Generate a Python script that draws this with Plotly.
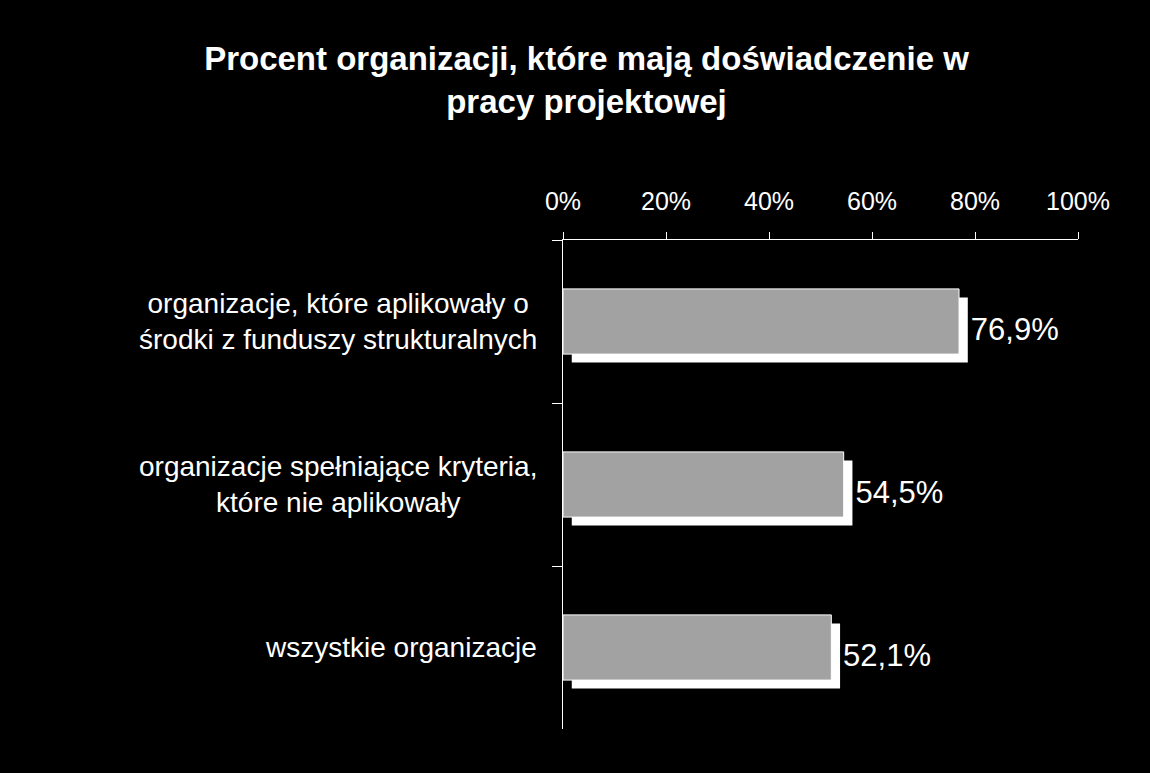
import plotly.graph_objects as go

categories = [
    "organizacje, które aplikowały o<br>środki z funduszy strukturalnych",
    "organizacje spełniające kryteria,<br>które nie aplikowały",
    "wszystkie organizacje",
]
values = [76.9, 54.5, 52.1]
tick_vals = [0, 20, 40, 60, 80, 100]
tick_text = ["0%", "20%", "40%", "60%", "80%", "100%"]
title_text = "Procent organizacji, które mają doświadczenie w<br>pracy projektowej"

labels = [f"{v:.1f}".replace(".", ",") + "%" for v in values]
idx = list(range(len(categories)))

BAR_W = 0.4
SHIFT_X = 1.7    # shadow shift in % units
SHIFT_Y = 0.052  # shadow shift in category units

fig = go.Figure()
# white shadow
fig.add_trace(go.Bar(
    y=idx, x=values, base=SHIFT_X, orientation="h",
    width=BAR_W, offset=-BAR_W / 2 + SHIFT_Y,
    marker=dict(color="#ffffff", line=dict(width=0)),
    text=labels, textposition="outside",
    textfont=dict(family="Liberation Sans, Arial, sans-serif", size=31, color="#ffffff"),
    cliponaxis=False, hoverinfo="skip", showlegend=False,
))
# grey bar
fig.add_trace(go.Bar(
    y=idx, x=values, orientation="h",
    width=BAR_W, offset=-BAR_W / 2,
    marker=dict(color="#a2a2a2", line=dict(color="#ffffff", width=1)),
    showlegend=False,
))

annotations = []
for i, c in enumerate(categories):
    annotations.append(dict(
        x=0, xref="paper", xanchor="right", xshift=-24,
        y=i, yref="y", yanchor="middle",
        text=c, showarrow=False, align="center",
        font=dict(family="Liberation Sans, Arial, sans-serif", size=28, color="#ffffff"),
    ))

fig.update_layout(
    width=1150, height=773,
    paper_bgcolor="#000000", plot_bgcolor="#000000",
    margin=dict(l=563, r=72, t=240, b=44),
    title=dict(
        text=title_text, x=0.51, xanchor="center", y=0.909, yanchor="middle",
        yref="container",
        font=dict(family="Liberation Sans, Arial, sans-serif",
                  size=33, color="#ffffff", weight="bold"),
    ),
    xaxis=dict(
        side="top", range=[0, 100], tickmode="array",
        tickvals=tick_vals, ticktext=tick_text,
        ticks="outside", ticklen=7, tickcolor="#ffffff", tickwidth=1,
        ticklabelstandoff=12,
        showline=True, linecolor="#ffffff", linewidth=1,
        showgrid=False, zeroline=False,
        tickfont=dict(family="Liberation Sans, Arial, sans-serif", size=25, color="#ffffff"),
        fixedrange=True,
    ),
    yaxis=dict(
        type="category", range=[2.5, -0.5],
        tickson="boundaries", ticks="outside", ticklen=10,
        tickcolor="#ffffff", tickwidth=1,
        showticklabels=False,
        showline=True, linecolor="#ffffff", linewidth=1,
        showgrid=False, zeroline=False, fixedrange=True,
    ),
    annotations=annotations,
)

fig.write_html("out.html")
